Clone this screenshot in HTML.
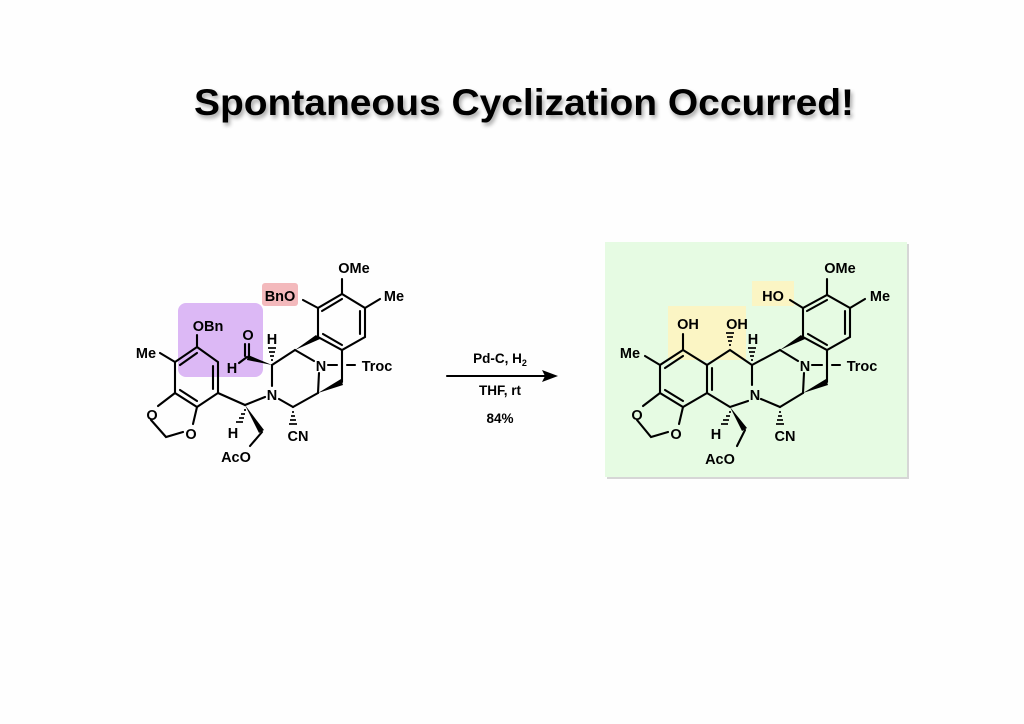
<!DOCTYPE html>
<html><head><meta charset="utf-8"><style>
html,body{margin:0;padding:0;background:#fff;}
svg{display:block;}
text{font-family:"Liberation Sans",Arial,sans-serif;font-weight:bold;}
</style></head><body>
<svg width="1024" height="724" viewBox="0 0 1024 724" xmlns="http://www.w3.org/2000/svg">
<defs>
<filter id="sh" x="-10%" y="-30%" width="120%" height="160%"><feGaussianBlur in="SourceAlpha" stdDeviation="2"/><feOffset dx="2" dy="3"/><feComponentTransfer><feFuncA type="linear" slope="0.35"/></feComponentTransfer><feMerge><feMergeNode/><feMergeNode in="SourceGraphic"/></feMerge></filter>
</defs>
<rect width="1024" height="724" fill="#fefefe"/>
<text x="524" y="115" font-size="37" text-anchor="middle" textLength="660" lengthAdjust="spacingAndGlyphs" filter="url(#sh)">Spontaneous Cyclization Occurred!</text>

<rect x="178" y="303" width="85" height="74" rx="8" fill="#dcb8f5"/>
<rect x="262" y="283" width="36" height="23" rx="3" fill="#f3b9bc"/>

<rect x="607" y="244" width="302" height="235" fill="#bbb" opacity="0.6"/>
<rect x="605" y="242" width="302" height="235" fill="#e6fbe3"/>
<rect x="668" y="306" width="78" height="54" fill="#fbf5c4"/>
<rect x="752" y="281" width="42" height="25" fill="#fbf5c4"/>

<g stroke="#000" stroke-width="2.1" fill="none" stroke-linecap="round">
<polygon points="197,347 218,362 218,393 197,407 175,393 175,362"/>
<line x1="180" y1="365" x2="197" y2="353"/>
<line x1="213" y1="366" x2="213" y2="389"/>
<line x1="197" y1="401" x2="180" y2="390"/>
<line x1="197" y1="347" x2="197" y2="335"/>
<line x1="175" y1="362" x2="160" y2="353"/>
<line x1="175" y1="393" x2="158" y2="406"/>
<line x1="197" y1="407" x2="193" y2="424"/>
<polyline points="151,420 166,437 183,432"/>
<line x1="218" y1="393" x2="245" y2="405"/>
<line x1="245" y1="405" x2="265" y2="397"/>
<line x1="250" y1="446" x2="262" y2="432"/>
<line x1="272" y1="386" x2="272" y2="365"/>
<line x1="249" y1="344" x2="249" y2="356"/>
<line x1="245" y1="344" x2="245" y2="356"/>
<line x1="247" y1="357" x2="239" y2="363"/>
<line x1="272" y1="365" x2="295" y2="350"/>
<line x1="295" y1="350" x2="314" y2="361"/>
<line x1="279" y1="399" x2="293" y2="407"/>
<line x1="293" y1="407" x2="318" y2="393"/>
<line x1="318" y1="393" x2="319" y2="373"/>
<line x1="342" y1="382" x2="342" y2="350"/>
<line x1="328" y1="365" x2="337" y2="365"/>
<line x1="347" y1="365" x2="355" y2="365"/>
<polygon points="318,337 318,308 342,294 365,308 365,337 342,350"/>
<line x1="322" y1="311" x2="342" y2="299"/>
<line x1="360" y1="311" x2="360" y2="334"/>
<line x1="342" y1="345" x2="323" y2="334"/>
<line x1="318" y1="308" x2="303" y2="300"/>
<line x1="342" y1="294" x2="342" y2="279"/>
<line x1="365" y1="308" x2="380" y2="299"/>

<polygon points="683,350 707,365 707,393 683,407 660,393 660,365"/>
<line x1="665" y1="368" x2="683" y2="356"/>
<line x1="712" y1="368" x2="712" y2="390"/>
<line x1="683" y1="401" x2="665" y2="390"/>
<line x1="683" y1="350" x2="683" y2="334"/>
<line x1="660" y1="365" x2="645" y2="356"/>
<line x1="660" y1="393" x2="643" y2="406"/>
<line x1="683" y1="407" x2="679" y2="424"/>
<polyline points="637,420 651,437 668,432"/>
<polyline points="707,365 730,350 752,365 752,385"/>
<polyline points="748,401 730,407 707,393"/>
<line x1="752" y1="365" x2="780" y2="350"/>
<line x1="780" y1="350" x2="798" y2="361"/>
<line x1="761" y1="399" x2="780" y2="407"/>
<line x1="780" y1="407" x2="803" y2="393"/>
<line x1="803" y1="393" x2="804" y2="373"/>
<line x1="827" y1="382" x2="827" y2="350"/>
<line x1="812" y1="365" x2="822" y2="365"/>
<line x1="832" y1="365" x2="840" y2="365"/>
<polygon points="803,337 803,308 827,295 850,308 850,337 827,350"/>
<line x1="807" y1="311" x2="827" y2="300"/>
<line x1="845" y1="311" x2="845" y2="334"/>
<line x1="827" y1="345" x2="808" y2="334"/>
<line x1="803" y1="308" x2="790" y2="300"/>
<line x1="827" y1="295" x2="827" y2="279"/>
<line x1="850" y1="308" x2="865" y2="299"/>
<line x1="737" y1="446" x2="745" y2="430"/>

<line x1="447" y1="376" x2="545" y2="376"/>
</g>
<polygon points="558,376 542,370 545,376 542,382" fill="#000"/>

<g fill="#000">
<polygon points="245,405 264,430 259,433"/>
<polygon points="272,365 248,355 247,360"/>
<polygon points="295,350 316,335 320,339"/>
<polygon points="318,393 341,379 343,385"/>
<polygon points="730,407 747,428 742,431"/>
<polygon points="780,350 801,335 805,339"/>
<polygon points="803,393 826,379 828,385"/>
</g>
<g stroke="#000" stroke-width="1.7">
<line x1="244" y1="410" x2="246" y2="410"/><line x1="241" y1="414" x2="245" y2="414"/><line x1="239" y1="418" x2="244" y2="418"/><line x1="236" y1="422" x2="243" y2="422"/>
<line x1="271" y1="360" x2="273" y2="360"/><line x1="270" y1="356" x2="274" y2="356"/><line x1="269" y1="352" x2="275" y2="352"/><line x1="268" y1="348" x2="276" y2="348"/>
<line x1="292" y1="412" x2="294" y2="412"/><line x1="291" y1="416" x2="295" y2="416"/><line x1="290" y1="420" x2="296" y2="420"/><line x1="289" y1="424" x2="297" y2="424"/>
<line x1="729" y1="412" x2="731" y2="412"/><line x1="726" y1="416" x2="730" y2="416"/><line x1="723" y1="420" x2="729" y2="420"/><line x1="721" y1="424" x2="728" y2="424"/>
<line x1="729" y1="345" x2="731" y2="345"/><line x1="728" y1="341" x2="732" y2="341"/><line x1="727" y1="337" x2="733" y2="337"/><line x1="726" y1="333" x2="734" y2="333"/>
<line x1="751" y1="360" x2="753" y2="360"/><line x1="750" y1="356" x2="754" y2="356"/><line x1="749" y1="352" x2="755" y2="352"/><line x1="748" y1="348" x2="756" y2="348"/>
<line x1="779" y1="412" x2="781" y2="412"/><line x1="778" y1="416" x2="782" y2="416"/><line x1="777" y1="420" x2="783" y2="420"/><line x1="776" y1="424" x2="784" y2="424"/>
</g>

<g font-size="14.5" text-anchor="middle" fill="#000">
<text x="208" y="331">OBn</text>
<text x="146" y="358">Me</text>
<text x="152" y="420">O</text>
<text x="191" y="439">O</text>
<text x="233" y="438">H</text>
<text x="236" y="462">AcO</text>
<text x="272" y="400">N</text>
<text x="272" y="344">H</text>
<text x="248" y="340">O</text>
<text x="232" y="373">H</text>
<text x="298" y="441">CN</text>
<text x="321" y="371">N</text>
<text x="377" y="371">Troc</text>
<text x="280" y="301">BnO</text>
<text x="354" y="273">OMe</text>
<text x="394" y="301">Me</text>
<text x="688" y="329">OH</text>
<text x="737" y="329">OH</text>
<text x="630" y="358">Me</text>
<text x="637" y="420">O</text>
<text x="676" y="439">O</text>
<text x="716" y="439">H</text>
<text x="720" y="464">AcO</text>
<text x="755" y="400">N</text>
<text x="753" y="344">H</text>
<text x="785" y="441">CN</text>
<text x="805" y="371">N</text>
<text x="862" y="371">Troc</text>
<text x="773" y="301">HO</text>
<text x="840" y="273">OMe</text>
<text x="880" y="301">Me</text>
</g>
<g font-size="13.5" text-anchor="middle" fill="#000">
<text x="500" y="363">Pd-C, H<tspan font-size="9" dy="3">2</tspan></text>
<text x="500" y="395">THF, rt</text>
<text x="500" y="423">84%</text>
</g>
</svg>
</body></html>
